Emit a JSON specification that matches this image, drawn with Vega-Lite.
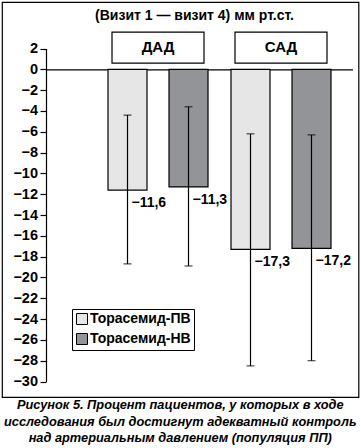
{
  "$schema": "https://vega.github.io/schema/vega-lite/v6.json",
  "autosize": "none",
  "width": 356.5,
  "height": 395,
  "padding": {"left": 2, "top": 2, "right": 2, "bottom": 51},
  "background": "white",
  "config": {
    "font": "Liberation Sans",
    "view": {"stroke": "black", "strokeWidth": 1.2},
    "axis": {"labelOverlap": false},
    "axisY": {"labelOverlap": false},
    "locale": {"number": {"decimal": ",", "thousands": " ", "grouping": [3], "currency": ["", ""], "minus": "−"}}
  },
  "title": {
    "text": ["Рисунок 5. Процент пациентов, у которых в ходе", "исследования был достигнут адекватный контроль", "над артериальным давлением (популяция ПП)"],
    "orient": "bottom",
    "anchor": "middle",
    "frame": "group",
    "font": "Liberation Sans",
    "fontSize": 12.8,
    "fontStyle": "italic",
    "fontWeight": "bold",
    "lineHeight": 16.7,
    "offset": 2,
    "color": "black"
  },
  "datasets": {
    "bars": [
      {"group": "ДАД", "drug": "Торасемид-ПВ", "value": -11.6, "lo": -18.7, "hi": -4.4},
      {"group": "ДАД", "drug": "Торасемид-НВ", "value": -11.3, "lo": -18.9, "hi": -3.6},
      {"group": "САД", "drug": "Торасемид-ПВ", "value": -17.3, "lo": -28.5, "hi": -6.2},
      {"group": "САД", "drug": "Торасемид-НВ", "value": -17.2, "lo": -28.0, "hi": -6.3}
    ],
    "groups": [{"group": "ДАД"}, {"group": "САД"}]
  },
  "data": {"name": "bars"},
  "encoding": {
    "x": {
      "field": "group", "type": "nominal", "sort": ["ДАД", "САД"],
      "scale": {"range": [44, 350.5], "paddingInner": 0.187, "paddingOuter": 0.3395, "align": 0.7425},
      "axis": {
        "orient": "top", "offset": -67.3, "labels": false, "ticks": false,
        "domain": true, "domainColor": "black", "domainWidth": 1.2,
        "title": "(Визит 1 — визит 4) мм рт.ст.",
        "titleFont": "Liberation Sans", "titleFontSize": 14, "titleFontWeight": "bold", "titleColor": "black",
        "titleX": 192, "titleY": -54, "titleBaseline": "middle", "titleAlign": "center", "titleAngle": 0
      }
    }
  },
  "layer": [
    {
      "mark": {"type": "bar", "stroke": "black", "strokeWidth": 1.2},
      "encoding": {
        "xOffset": {"field": "drug", "type": "nominal", "sort": ["Торасемид-ПВ", "Торасемид-НВ"], "scale": {"paddingInner": 0.3607, "paddingOuter": 0}},
        "y": {
          "field": "value", "type": "quantitative",
          "scale": {"domain": [-30, 2], "range": [379.5, 46.5], "nice": false, "zero": false},
          "axis": {
            "orient": "left", "offset": -44, "values": [2, 0, -2, -4, -6, -8, -10, -12, -14, -16, -18, -20, -22, -24, -26, -28, -30],
            "format": "d", "grid": false, "title": null, "labelOverlap": false, "labelBound": false, "labelFlush": false,
            "domainColor": "black", "domainWidth": 1.2, "tickColor": "black", "tickWidth": 1.2, "tickSize": 6,
            "labelFont": "Liberation Sans", "labelFontSize": 14.5, "labelFontWeight": "bold", "labelColor": "black", "labelPadding": 2.5
          }
        },
        "y2": {"datum": 0},
        "color": {
          "field": "drug", "type": "nominal",
          "scale": {"domain": ["Торасемид-ПВ", "Торасемид-НВ"], "range": ["#e6e6e6", "#939498"]},
          "legend": {
            "orient": "none", "legendX": 70, "legendY": 307, "title": null,
            "strokeColor": "black", "fillColor": "white", "padding": 3,
            "symbolType": "square", "symbolSize": 121, "symbolStrokeColor": "black", "symbolStrokeWidth": 1,
            "labelFont": "Liberation Sans", "labelFontSize": 14, "labelFontWeight": "bold", "labelColor": "black",
            "labelOffset": 1, "rowPadding": 4
          }
        }
      }
    },
    {
      "mark": {"type": "rule", "color": "black", "strokeWidth": 1.2},
      "encoding": {
        "xOffset": {"field": "drug", "type": "nominal", "sort": ["Торасемид-ПВ", "Торасемид-НВ"]},
        "y": {"field": "lo", "type": "quantitative", "axis": {
            "orient": "left", "offset": -44, "values": [2, 0, -2, -4, -6, -8, -10, -12, -14, -16, -18, -20, -22, -24, -26, -28, -30],
            "format": "d", "grid": false, "title": null, "labelOverlap": false, "labelBound": false, "labelFlush": false,
            "domainColor": "black", "domainWidth": 1.2, "tickColor": "black", "tickWidth": 1.2, "tickSize": 6,
            "labelFont": "Liberation Sans", "labelFontSize": 14.5, "labelFontWeight": "bold", "labelColor": "black", "labelPadding": 2.5
          }},
        "y2": {"field": "hi"}
      }
    },
    {
      "mark": {"type": "tick", "orient": "horizontal", "color": "black", "size": 8, "thickness": 1.2},
      "encoding": {
        "xOffset": {"field": "drug", "type": "nominal", "sort": ["Торасемид-ПВ", "Торасемид-НВ"]},
        "y": {"field": "lo", "type": "quantitative", "axis": {
            "orient": "left", "offset": -44, "values": [2, 0, -2, -4, -6, -8, -10, -12, -14, -16, -18, -20, -22, -24, -26, -28, -30],
            "format": "d", "grid": false, "title": null, "labelOverlap": false, "labelBound": false, "labelFlush": false,
            "domainColor": "black", "domainWidth": 1.2, "tickColor": "black", "tickWidth": 1.2, "tickSize": 6,
            "labelFont": "Liberation Sans", "labelFontSize": 14.5, "labelFontWeight": "bold", "labelColor": "black", "labelPadding": 2.5
          }}
      }
    },
    {
      "mark": {"type": "tick", "orient": "horizontal", "color": "black", "size": 8, "thickness": 1.2},
      "encoding": {
        "xOffset": {"field": "drug", "type": "nominal", "sort": ["Торасемид-ПВ", "Торасемид-НВ"]},
        "y": {"field": "hi", "type": "quantitative", "axis": {
            "orient": "left", "offset": -44, "values": [2, 0, -2, -4, -6, -8, -10, -12, -14, -16, -18, -20, -22, -24, -26, -28, -30],
            "format": "d", "grid": false, "title": null, "labelOverlap": false, "labelBound": false, "labelFlush": false,
            "domainColor": "black", "domainWidth": 1.2, "tickColor": "black", "tickWidth": 1.2, "tickSize": 6,
            "labelFont": "Liberation Sans", "labelFontSize": 14.5, "labelFontWeight": "bold", "labelColor": "black", "labelPadding": 2.5
          }}
      }
    },
    {
      "mark": {"type": "text", "align": "left", "baseline": "middle", "dx": 4, "dy": 13, "font": "Liberation Sans", "fontSize": 14, "fontWeight": "bold", "color": "black"},
      "encoding": {
        "xOffset": {"field": "drug", "type": "nominal", "sort": ["Торасемид-ПВ", "Торасемид-НВ"]},
        "y": {"field": "value", "type": "quantitative", "axis": {
            "orient": "left", "offset": -44, "values": [2, 0, -2, -4, -6, -8, -10, -12, -14, -16, -18, -20, -22, -24, -26, -28, -30],
            "format": "d", "grid": false, "title": null, "labelOverlap": false, "labelBound": false, "labelFlush": false,
            "domainColor": "black", "domainWidth": 1.2, "tickColor": "black", "tickWidth": 1.2, "tickSize": 6,
            "labelFont": "Liberation Sans", "labelFontSize": 14.5, "labelFontWeight": "bold", "labelColor": "black", "labelPadding": 2.5
          }},
        "text": {"field": "value", "type": "quantitative", "format": ".1f"}
      }
    },
    {
      "data": {"name": "groups"},
      "mark": {"type": "bar", "fill": "white", "stroke": "black", "strokeWidth": 1.2, "width": {"band": 0.92}},
      "encoding": {
        "y": {"datum": 3.58, "type": "quantitative", "axis": {
            "orient": "left", "offset": -44, "values": [2, 0, -2, -4, -6, -8, -10, -12, -14, -16, -18, -20, -22, -24, -26, -28, -30],
            "format": "d", "grid": false, "title": null, "labelOverlap": false, "labelBound": false, "labelFlush": false,
            "domainColor": "black", "domainWidth": 1.2, "tickColor": "black", "tickWidth": 1.2, "tickSize": 6,
            "labelFont": "Liberation Sans", "labelFontSize": 14.5, "labelFontWeight": "bold", "labelColor": "black", "labelPadding": 2.5
          }},
        "y2": {"datum": 0.6}
      }
    },
    {
      "data": {"name": "groups"},
      "mark": {"type": "text", "align": "center", "baseline": "middle", "font": "Liberation Sans", "fontSize": 15, "fontWeight": "bold", "color": "black"},
      "encoding": {
        "y": {"datum": 2.17, "type": "quantitative", "axis": {
            "orient": "left", "offset": -44, "values": [2, 0, -2, -4, -6, -8, -10, -12, -14, -16, -18, -20, -22, -24, -26, -28, -30],
            "format": "d", "grid": false, "title": null, "labelOverlap": false, "labelBound": false, "labelFlush": false,
            "domainColor": "black", "domainWidth": 1.2, "tickColor": "black", "tickWidth": 1.2, "tickSize": 6,
            "labelFont": "Liberation Sans", "labelFontSize": 14.5, "labelFontWeight": "bold", "labelColor": "black", "labelPadding": 2.5
          }},
        "text": {"field": "group", "type": "nominal"}
      }
    }
  ]
}
